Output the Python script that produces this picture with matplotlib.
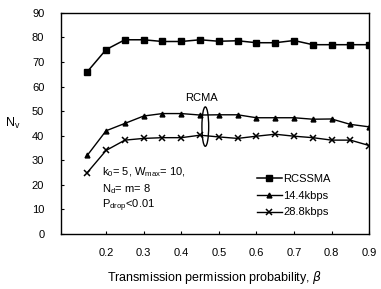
import numpy as np
import matplotlib
matplotlib.use('Agg')
import matplotlib.pyplot as plt
from matplotlib.patches import Ellipse

plt.rcParams['font.family'] = ['Liberation Sans', 'DejaVu Sans']

# data
beta = [0.15, 0.2, 0.25, 0.3, 0.35, 0.4, 0.45, 0.5, 0.55, 0.6, 0.65, 0.7, 0.75, 0.8, 0.85, 0.9]
rcssma = [66, 75, 79, 79, 78.3, 78.3, 79, 78.4, 78.6, 77.8, 77.8, 78.7, 77, 77, 77, 77]
kbps144 = [32, 42, 45, 48, 49, 49, 48.4, 48.5, 48.5, 47.3, 47.3, 47.3, 46.7, 46.8, 44.6, 43.6]
kbps288 = [25, 34, 38.2, 38.9, 39.2, 39.2, 40.2, 39.5, 38.9, 39.8, 40.6, 39.8, 39.2, 38.2, 38.2, 36]

xticks = [0.2, 0.3, 0.4, 0.5, 0.6, 0.7, 0.8, 0.9]
yticks = np.arange(0, 91, 10)

fig = plt.figure(figsize=(3.81, 2.89), dpi=100)
ax = fig.add_axes([0.160, 0.190, 0.809, 0.766])

ax.plot(beta, rcssma, color='black', lw=1.1, marker='s', ms=4.5, label='RCSSMA')
ax.plot(beta, kbps144, color='black', lw=1.0, marker='^', ms=3.5, label='14.4kbps')
ax.plot(beta, kbps288, color='black', lw=1.0, marker='x', ms=5, mew=1.1, label='28.8kbps')

ax.set_xlim(0.08, 0.9)
ax.set_ylim(0, 90)
ax.set_xticks(xticks)
ax.set_yticks(yticks)
ax.tick_params(direction='in', length=2.5, labelsize=8, pad=10)
ax.tick_params(axis='y', pad=12)
for s in ax.spines.values():
    s.set_linewidth(1.0)

ax.set_xlabel('Transmission permission probability, $\\beta$', fontsize=9, labelpad=8)
ax.set_ylabel('N$_\\mathregular{v}$', fontsize=9, rotation=0, labelpad=14, va='center')

# RCMA marker
ax.add_patch(Ellipse((0.464, 43.7), 0.018, 16, fill=False, color='black', lw=1.0))
ax.text(0.455, 55.5, 'RCMA', fontsize=8, ha='center', va='center')

ax.text(0.19, 25.3, 'k$_\\mathregular{0}$= 5, W$_\\mathregular{max}$= 10,', fontsize=8, va='center')
ax.text(0.19, 18.3, 'N$_\\mathregular{d}$= m= 8', fontsize=8, va='center')
ax.text(0.19, 11.5, 'P$_\\mathregular{drop}$<0.01', fontsize=8, va='center')

ax.legend(loc='lower left', bbox_to_anchor=(0.635, 0.075), frameon=False, fontsize=8,
          handlelength=2.3, handletextpad=0.1, labelspacing=0.6, borderaxespad=0.0,
          borderpad=0.0)

plt.savefig('out.png', dpi=100)
